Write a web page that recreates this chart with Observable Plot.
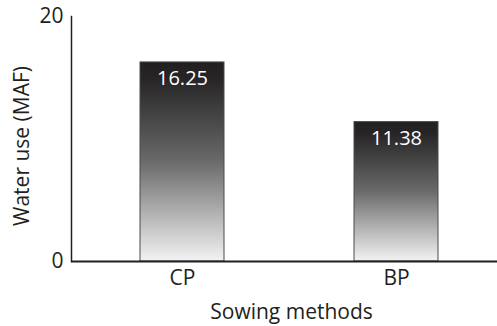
<!DOCTYPE html>
<html>
<head>
<meta charset="utf-8">
<script src="https://cdn.jsdelivr.net/npm/d3@7"></script>
<script src="https://cdn.jsdelivr.net/npm/@observablehq/plot@0.6"></script>
<style>
  html, body { margin: 0; padding: 0; background: #fff; }
</style>
</head>
<body>
<div id="chart"></div>
<script>
// Water use by sowing method
const methods = ["CP", "BP"];
const waterUse = [16.25, 11.38];
const yTicks = [0, 20];
const xTitle = "Sowing methods";
const yTitle = "Water use (MAF)";

const data = methods.map((m, i) => ({method: m, value: waterUse[i]}));
const ink = "#231f20";
const fs = 21;

const chart = Plot.plot({
  width: 497,
  height: 326,
  marginLeft: 71,
  marginRight: 0,
  marginTop: 16,
  marginBottom: 65,
  style: {fontFamily: "Open Sans", fontSize: fs + "px", color: ink, background: "#fff"},
  x: {domain: methods, range: [71, 507], paddingInner: 0.608, paddingOuter: 0.32, label: null},
  y: {domain: [0, 20], label: null},
  marks: [
    Plot.barY(data, {x: "method", y: "value", fill: "url(#barShade)", stroke: "#4a4a4a", strokeWidth: 1}),
    Plot.text(data, {x: "method", y: "value", text: d => d.value.toFixed(2), fill: "#fff", dy: 16, lineAnchor: "middle", fontSize: 20}),
    Plot.ruleY([0], {stroke: ink, strokeWidth: 2}),
    Plot.frame({anchor: "left", stroke: ink, strokeWidth: 1.5}),
    Plot.axisX({tickSize: 0, tickPadding: 9, label: null, fill: ink, fontSize: fs}),
    Plot.axisY({ticks: yTicks, tickSize: 0, tickPadding: 8, tickFormat: d => String(d), label: null, fill: ink, fontSize: fs}),
    Plot.text([xTitle], {frameAnchor: "bottom", text: d => d, textAnchor: "middle", dx: 7, dy: 51, lineAnchor: "middle", fill: ink, fontSize: fs}),
    Plot.text([yTitle], {frameAnchor: "left", text: d => d, textAnchor: "middle", rotate: -90, dx: -49, dy: 7, lineAnchor: "middle", fill: ink, fontSize: fs})
  ]
});

// vertical shade for the bars: dark at the top fading to near white at the base
const ns = "http://www.w3.org/2000/svg";
const defs = document.createElementNS(ns, "defs");
const grad = document.createElementNS(ns, "linearGradient");
grad.setAttribute("id", "barShade");
grad.setAttribute("x1", "0"); grad.setAttribute("y1", "0");
grad.setAttribute("x2", "0"); grad.setAttribute("y2", "1");
[[0, "#221f20"], [0.08, "#262425"], [0.5, "#6a6a6b"], [1, "#f3f3f4"]].forEach(([o, c]) => {
  const s = document.createElementNS(ns, "stop");
  s.setAttribute("offset", o);
  s.setAttribute("stop-color", c);
  grad.appendChild(s);
});
defs.appendChild(grad);
chart.insertBefore(defs, chart.firstChild);

document.getElementById("chart").appendChild(chart);
</script>
</body>
</html>
